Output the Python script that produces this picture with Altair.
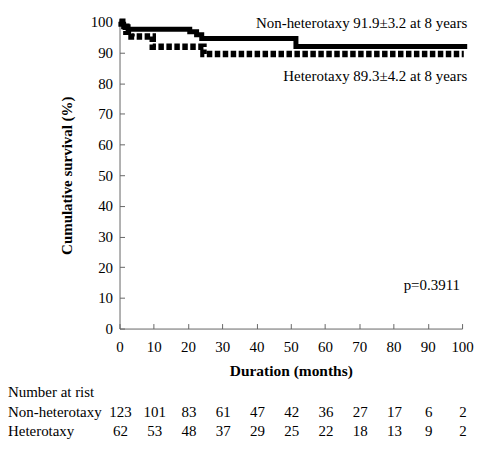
import altair as alt
import pandas as pd

# ---- data ----
months_nh = [0, 0.4, 1.2, 2.5, 20.5, 22.5, 24.0, 51.5, 101.5]
surv_nh = [100, 99.2, 98.4, 97.6, 96.8, 95.8, 94.6, 92.0, 92.0]
months_h = [0, 0.8, 2.0, 3.5, 9.7, 24.5, 100.5]
surv_h = [100, 98.4, 96.8, 95.2, 91.9, 89.5, 89.5]

tick_months = [0, 10, 20, 30, 40, 50, 60, 70, 80, 90, 100]
tick_surv = [0, 10, 20, 30, 40, 50, 60, 70, 80, 90, 100]
risk_nh = [123, 101, 83, 61, 47, 42, 36, 27, 17, 6, 2]
risk_h = [62, 53, 48, 37, 29, 25, 22, 18, 13, 9, 2]
row_labels = ["Number at rist", "Non-heterotaxy", "Heterotaxy"]

notes = ["Non-heterotaxy 91.9\u00b13.2 at 8 years", "Heterotaxy 89.3\u00b14.2 at 8 years", "p=0.3911"]
note_x = [101.5, 101.5, 99.4]
note_y = [99.5, 82.5, 14.3]

FONT = "Liberation Serif"
W, H = 344, 308
AXIS_GREY = "#666666"

curves = pd.DataFrame({
    "month": months_nh + months_h,
    "surv": surv_nh + surv_h,
    "group": ["Non-heterotaxy"] * len(months_nh) + ["Heterotaxy"] * len(months_h),
})
table = pd.DataFrame({
    "month": tick_months + tick_months,
    "n": [str(v) for v in risk_nh + risk_h],
    "row": ["Non-heterotaxy"] * len(risk_nh) + ["Heterotaxy"] * len(risk_h),
})
rows = pd.DataFrame({"row": row_labels})
notes_df = pd.DataFrame({"month": note_x, "surv": note_y, "text": notes})

xs = alt.Scale(domain=[0, 100], nice=False, zero=False)
ys = alt.Scale(domain=[0, 100], nice=False)
row_scale = alt.Scale(domain=row_labels, range=[372, 411], padding=0)

x_main = alt.Axis(values=tick_months, orient="bottom", ticks=False, domain=True,
                  domainColor=AXIS_GREY, grid=False, labelFont=FONT, labelFontSize=15,
                  labelColor="black", labelPadding=11, labelFlush=False,
                  title="Duration (months)", titleFont=FONT, titleFontSize=15.5,
                  titleFontWeight="bold", titleColor="black", titlePadding=9)
y_main = alt.Axis(values=tick_surv, orient="left", ticks=False, domain=True,
                  domainColor=AXIS_GREY, grid=False, labelFont=FONT, labelFontSize=15,
                  labelColor="black", labelPadding=7, labelFlush=False,
                  title="Cumulative survival (%)", titleFont=FONT, titleFontSize=15,
                  titleFontWeight="bold", titleColor="black", titlePadding=16)
x_ticks = alt.Axis(values=tick_months, orient="bottom", offset=-5, ticks=True, tickSize=5,
                   tickColor=AXIS_GREY, domain=False, labels=False, grid=False, title="")
y_ticks = alt.Axis(values=tick_surv, orient="left", offset=-5, ticks=True, tickSize=5,
                   tickColor=AXIS_GREY, domain=False, labels=False, grid=False, title="")

tick_layer = alt.Chart(curves).mark_point(opacity=0, size=1).encode(
    x=alt.X("month:Q", scale=xs, axis=x_ticks),
    y=alt.Y("surv:Q", scale=ys, axis=y_ticks),
)

solid = alt.Chart(curves).transform_filter(alt.datum.group == "Non-heterotaxy").mark_line(
    interpolate="step-after", color="black", strokeWidth=5, strokeCap="butt", strokeJoin="miter"
).encode(
    x=alt.X("month:Q", scale=xs, axis=x_main),
    y=alt.Y("surv:Q", scale=ys, axis=y_main),
)

dashed = alt.Chart(curves).transform_filter(alt.datum.group == "Heterotaxy").mark_line(
    interpolate="step-after", color="black", strokeWidth=6.5, strokeDash=[5.5, 2.5],
    strokeCap="butt", strokeJoin="miter"
).encode(
    x=alt.X("month:Q", scale=xs, axis=None),
    y=alt.Y("surv:Q", scale=ys, axis=None),
)

note_layer = alt.Chart(notes_df).mark_text(
    align="right", baseline="middle", font=FONT, fontSize=15, color="black"
).encode(
    x=alt.X("month:Q", scale=xs, axis=None),
    y=alt.Y("surv:Q", scale=ys, axis=None),
    text="text:N",
)

num_layer = alt.Chart(table).mark_text(
    align="center", baseline="middle", font=FONT, fontSize=15, color="black", dx=1
).encode(
    x=alt.X("month:Q", scale=xs, axis=None),
    y=alt.Y("row:N", scale=row_scale, axis=None),
    text="n:N",
)

row_layer = alt.Chart(rows).mark_text(
    align="left", baseline="middle", font=FONT, fontSize=15, color="black"
).encode(
    x=alt.value(-112),
    y=alt.Y("row:N", scale=row_scale, axis=None),
    text="row:N",
)

chart = alt.layer(
    tick_layer, solid, dashed, note_layer, num_layer, row_layer
).resolve_scale(y="independent").resolve_axis(x="independent", y="independent").properties(
    width=W, height=H,
    padding={"left": 0, "top": 0, "right": 0, "bottom": 0},
).configure_view(stroke=None)

chart.save("out.html", embed_options={"renderer": "svg", "actions": False})
